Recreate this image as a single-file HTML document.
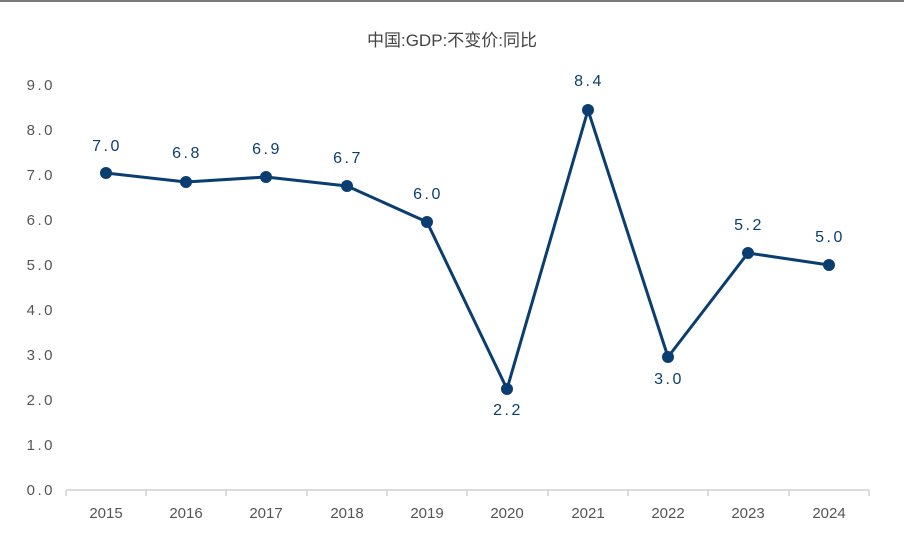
<!DOCTYPE html>
<html><head><meta charset="utf-8"><style>
body{margin:0;background:#fff}
svg{display:block}
text{font-family:"Liberation Sans","Noto Sans CJK SC",sans-serif}
</style></head><body>
<svg width="904" height="556" viewBox="0 0 904 556">
<rect x="0" y="0" width="904" height="2" fill="#7a7a7a"/>
<text x="452" y="46" text-anchor="middle" font-size="17" fill="#444">中国:GDP:不变价:同比</text>
<g font-size="15" fill="#555" text-anchor="end" letter-spacing="2.5">
<text x="55" y="495">0.0</text><text x="55" y="450">1.0</text><text x="55" y="405">2.0</text>
<text x="55" y="360">3.0</text><text x="55" y="315">4.0</text><text x="55" y="270">5.0</text>
<text x="55" y="225">6.0</text><text x="55" y="180">7.0</text><text x="55" y="135">8.0</text>
<text x="55" y="90">9.0</text>
</g>
<g stroke="#d0d0d0" stroke-width="1.5">
<line x1="66" y1="490" x2="869" y2="490"/>
<line x1="66" y1="490" x2="66" y2="496"/><line x1="146" y1="490" x2="146" y2="496"/>
<line x1="226" y1="490" x2="226" y2="496"/><line x1="307" y1="490" x2="307" y2="496"/>
<line x1="387" y1="490" x2="387" y2="496"/><line x1="467" y1="490" x2="467" y2="496"/>
<line x1="548" y1="490" x2="548" y2="496"/><line x1="628" y1="490" x2="628" y2="496"/>
<line x1="708" y1="490" x2="708" y2="496"/><line x1="789" y1="490" x2="789" y2="496"/>
<line x1="869" y1="490" x2="869" y2="496"/>
</g>
<g font-size="15" fill="#555" text-anchor="middle">
<text x="106" y="518">2015</text><text x="186" y="518">2016</text><text x="266" y="518">2017</text>
<text x="347" y="518">2018</text><text x="427" y="518">2019</text><text x="507" y="518">2020</text>
<text x="588" y="518">2021</text><text x="668" y="518">2022</text><text x="748" y="518">2023</text>
<text x="829" y="518">2024</text>
</g>
<polyline fill="none" stroke="#0b3e70" stroke-width="3" stroke-linejoin="round"
points="106,173 186,182 266,177 347,186 427,222 507,389 588,110 668,357 748,253 829,265"/>
<g fill="#0b3e70">
<circle cx="106" cy="173" r="6"/><circle cx="186" cy="182" r="6"/><circle cx="266" cy="177" r="6"/>
<circle cx="347" cy="186" r="6"/><circle cx="427" cy="222" r="6"/><circle cx="507" cy="389" r="6"/>
<circle cx="588" cy="110" r="6"/><circle cx="668" cy="357" r="6"/><circle cx="748" cy="253" r="6"/>
<circle cx="829" cy="265" r="6"/>
</g>
<g font-size="16" fill="#0b3e70" text-anchor="middle" letter-spacing="2.5">
<text x="107" y="151">7.0</text><text x="187" y="158">6.8</text><text x="267" y="154">6.9</text>
<text x="348" y="163">6.7</text><text x="428" y="199">6.0</text><text x="508" y="415">2.2</text>
<text x="589" y="86">8.4</text><text x="669" y="384">3.0</text><text x="749" y="230">5.2</text>
<text x="830" y="242">5.0</text>
</g>
</svg>
</body></html>
